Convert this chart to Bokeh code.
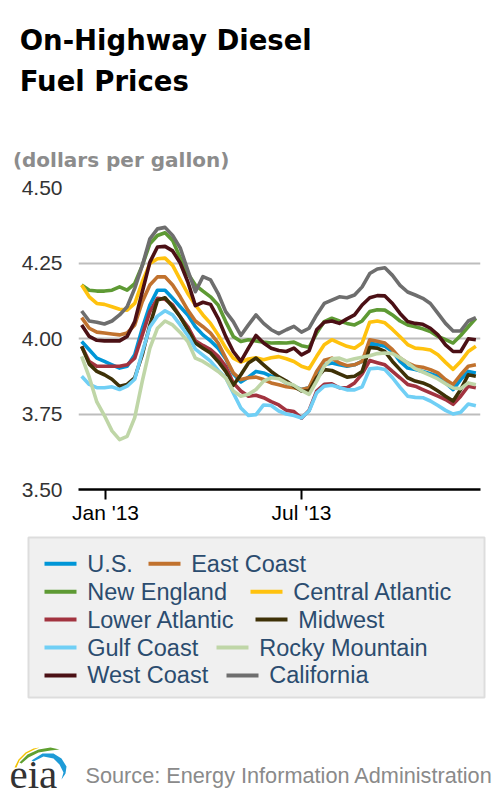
import pandas as pd
from bokeh.plotting import figure
from bokeh.models import Range1d, FixedTicker, NumeralTickFormatter, ColumnDataSource
from bokeh.core.properties import value
from bokeh.embed import file_html
from bokeh.resources import INLINE

# ---------------- data ----------------
title_lines = ["On-Highway Diesel", "Fuel Prices"]
subtitle = "(dollars per gallon)"
source_note = "Source: Energy Information Administration"

week_start = "2012-12-10"   # first weekly observation (Mondays)

us = [3.990, 3.963, 3.935, 3.924, 3.913, 3.902, 3.908, 3.946, 4.034, 4.111, 4.160, 4.160, 4.133,
      4.105, 4.078, 4.039, 4.012, 3.992, 3.968, 3.933, 3.883, 3.856, 3.872, 3.891, 3.886, 3.875,
      3.870, 3.853, 3.842, 3.831, 3.837, 3.880, 3.913, 3.919, 3.913, 3.908, 3.913, 3.924, 3.985,
      3.980, 3.974, 3.957, 3.924, 3.902, 3.897, 3.891, 3.883, 3.875, 3.853, 3.831, 3.864, 3.891, 3.886]
east_coast = [4.069, 4.034, 4.021, 4.018, 4.015, 4.012, 4.018, 4.045, 4.122, 4.177, 4.204, 4.204, 4.177,
              4.138, 4.094, 4.058, 4.039, 4.018, 3.985, 3.935, 3.886, 3.864, 3.870, 3.872, 3.864, 3.853,
              3.847, 3.840, 3.837, 3.831, 3.837, 3.891, 3.928, 3.935, 3.919, 3.910, 3.913, 3.924, 3.996,
              3.991, 3.985, 3.963, 3.935, 3.919, 3.908, 3.905, 3.897, 3.886, 3.864, 3.848, 3.880, 3.908, 3.913]
new_england = [4.177, 4.160, 4.157, 4.157, 4.160, 4.171, 4.160, 4.182, 4.242, 4.314, 4.341, 4.350, 4.325,
               4.267, 4.215, 4.177, 4.157, 4.138, 4.111, 4.056, 4.007, 3.990, 3.996, 3.992, 3.988, 3.985,
               3.986, 3.985, 3.988, 3.976, 3.971, 4.018, 4.056, 4.067, 4.058, 4.050, 4.045, 4.058, 4.089,
               4.095, 4.094, 4.078, 4.058, 4.045, 4.039, 4.032, 4.023, 4.007, 3.996, 3.985, 4.010, 4.039, 4.067]
central_atlantic = [4.177, 4.138, 4.116, 4.113, 4.105, 4.097, 4.094, 4.116, 4.188, 4.248, 4.264, 4.266, 4.242,
                    4.195, 4.149, 4.111, 4.078, 4.050, 4.012, 3.969, 3.935, 3.922, 3.932, 3.936, 3.930, 3.936,
                    3.940, 3.933, 3.924, 3.908, 3.900, 3.941, 3.979, 3.996, 3.985, 3.974, 3.968, 3.985, 4.054,
                    4.058, 4.052, 4.030, 4.006, 3.980, 3.968, 3.966, 3.962, 3.946, 3.921, 3.898, 3.924, 3.957, 3.974]
lower_atlantic = [3.974, 3.924, 3.908, 3.908, 3.908, 3.908, 3.913, 3.935, 4.012, 4.089, 4.133, 4.130, 4.111,
                  4.072, 4.039, 3.992, 3.977, 3.963, 3.941, 3.908, 3.853, 3.826, 3.809, 3.812, 3.804, 3.791,
                  3.780, 3.762, 3.758, 3.736, 3.762, 3.826, 3.848, 3.850, 3.837, 3.837, 3.853, 3.883, 3.927,
                  3.920, 3.913, 3.891, 3.870, 3.848, 3.842, 3.831, 3.820, 3.809, 3.798, 3.782, 3.809, 3.842, 3.837]
midwest = [3.974, 3.915, 3.891, 3.880, 3.865, 3.842, 3.848, 3.870, 3.946, 4.045, 4.127, 4.135, 4.105,
           4.072, 4.029, 3.985, 3.968, 3.952, 3.924, 3.891, 3.845, 3.880, 3.919, 3.935, 3.913, 3.891,
           3.873, 3.859, 3.842, 3.826, 3.826, 3.870, 3.897, 3.894, 3.883, 3.872, 3.875, 3.891, 3.970,
           3.968, 3.957, 3.924, 3.897, 3.870, 3.859, 3.853, 3.842, 3.826, 3.809, 3.793, 3.831, 3.880, 3.875]
gulf_coast = [3.875, 3.848, 3.837, 3.837, 3.840, 3.831, 3.842, 3.865, 3.955, 4.038, 4.074, 4.092, 4.078,
              4.045, 4.010, 3.965, 3.945, 3.925, 3.895, 3.870, 3.820, 3.770, 3.745, 3.748, 3.780, 3.778,
              3.760, 3.750, 3.745, 3.737, 3.760, 3.820, 3.842, 3.845, 3.838, 3.830, 3.830, 3.840, 3.900,
              3.902, 3.897, 3.870, 3.838, 3.809, 3.805, 3.804, 3.793, 3.778, 3.762, 3.750, 3.756, 3.783, 3.777]
rocky_mountain = [3.941, 3.872, 3.790, 3.745, 3.694, 3.665, 3.676, 3.738, 3.859, 3.968, 4.034, 4.058, 4.045,
                  4.020, 3.990, 3.935, 3.924, 3.908, 3.891, 3.870, 3.826, 3.809, 3.815, 3.831, 3.859, 3.870,
                  3.867, 3.853, 3.845, 3.828, 3.815, 3.859, 3.908, 3.933, 3.935, 3.926, 3.933, 3.938, 3.943,
                  3.950, 3.952, 3.950, 3.936, 3.919, 3.900, 3.889, 3.878, 3.866, 3.850, 3.836, 3.834, 3.853, 3.847]
west_coast = [4.045, 4.007, 3.994, 3.992, 3.992, 3.992, 4.007, 4.056, 4.155, 4.253, 4.303, 4.305, 4.290,
              4.250, 4.188, 4.109, 4.120, 4.113, 4.067, 4.007, 3.957, 3.924, 3.968, 4.010, 3.985, 3.968,
              3.960, 3.957, 3.968, 3.946, 3.959, 4.029, 4.054, 4.058, 4.050, 4.065, 4.078, 4.111, 4.135,
              4.142, 4.141, 4.116, 4.083, 4.056, 4.050, 4.047, 4.034, 4.012, 3.979, 3.957, 3.957, 3.999, 3.996]
california = [4.091, 4.058, 4.054, 4.048, 4.058, 4.078, 4.105, 4.166, 4.242, 4.330, 4.363, 4.368, 4.341,
              4.300, 4.226, 4.155, 4.205, 4.194, 4.149, 4.089, 4.056, 4.010, 4.045, 4.078, 4.050, 4.029,
              4.016, 4.029, 4.040, 4.021, 4.034, 4.078, 4.116, 4.127, 4.138, 4.135, 4.144, 4.171, 4.215,
              4.230, 4.234, 4.209, 4.176, 4.154, 4.144, 4.133, 4.116, 4.083, 4.050, 4.025, 4.025, 4.058, 4.069]

series_names = ["U.S.", "East Coast", "New England", "Central Atlantic", "Lower Atlantic",
                "Midwest", "Gulf Coast", "Rocky Mountain", "West Coast", "California"]
series_values = [us, east_coast, new_england, central_atlantic, lower_atlantic,
                 midwest, gulf_coast, rocky_mountain, west_coast, california]
series_colors = ["#0096D7", "#C1722E", "#5E9A34", "#FFC20E", "#A2333F",
                 "#3E3107", "#70CFF5", "#BFD6A7", "#4B1015", "#6E6E6E"]

y_ticks = [3.50, 3.75, 4.00, 4.25, 4.50]
x_tick_dates = ["2013-01-01", "2013-07-01"]
x_tick_labels = ["Jan '13", "Jul '13"]
x_start, x_end = "2012-12-07 02:00", "2013-12-13 07:00"

# ---------------- layout (page pixels) ----------------
W = 496
TOP_H, CHART_H, LEG_H, FOOT_H = 174, 356, 175, 94
FRAME_L, FRAME_R, FRAME_T, FRAME_B = 78, 480, 187, 489
SANS = "Liberation Sans"
LEGEND_TEXT = "#2B4C6F"


def blank(height, xr, yr):
    f = figure(width=W, height=height, x_range=xr, y_range=yr, toolbar_location=None,
               output_backend="svg", x_axis_location=None, y_axis_location=None,
               outline_line_color=None, title=None, min_border=0, min_border_left=0,
               min_border_right=0, min_border_top=0, min_border_bottom=0)
    f.grid.visible = False
    return f


# ---- title block (page pixel coordinates, y downward; texts centred on their cap height) ----
ft = blank(TOP_H, Range1d(0, W), Range1d(TOP_H, 0))
ft.text(x=[19.2, 19.2], y=[39.5, 80.5], text=title_lines, text_font=value("DejaVu Sans"),
        text_font_style="bold", text_font_size="27.5px", text_color="black",
        text_baseline="middle", text_align="left")
ft.text(x=[12.4], y=[159.8], text=[subtitle], text_font=value("DejaVu Sans"),
        text_font_style="bold", text_font_size="20px", text_color="#8C8C8C",
        text_baseline="middle", text_align="left")

# ---- chart ----
dates = pd.date_range(week_start, periods=len(us), freq="7D")
data = {"date": dates}
for name, vals in zip(series_names, series_values):
    data[name] = vals
src = ColumnDataSource(data)

p = figure(width=W, height=CHART_H, x_axis_type="datetime",
           x_range=Range1d(pd.Timestamp(x_start), pd.Timestamp(x_end)),
           y_range=Range1d(3.5, 4.5), toolbar_location=None, output_backend="svg",
           title=None,
           min_border_left=FRAME_L, min_border_right=W - FRAME_R,
           min_border_top=FRAME_T - TOP_H, min_border_bottom=TOP_H + CHART_H - FRAME_B,
           outline_line_color=None)
for name, color in zip(series_names, series_colors):
    p.line("date", name, source=src, line_color=color, line_width=3.6, line_join="round")

p.ygrid.grid_line_color = "#BDBDBD"
p.ygrid.grid_line_width = 2
p.xgrid.visible = False

ya = p.yaxis[0]
ya.ticker = FixedTicker(ticks=y_ticks)
ya.formatter = NumeralTickFormatter(format="0.00")
ya.axis_line_color = None
ya.major_tick_line_color = None
ya.minor_tick_line_color = None
ya.major_tick_out = 0
ya.major_tick_in = 0
ya.major_label_standoff = 16
ya.major_label_text_font = SANS
ya.major_label_text_font_size = "21px"
ya.major_label_text_color = "#333333"

tick_ms = [float(pd.Timestamp(d).value // 10**6) for d in x_tick_dates]
xa = p.xaxis[0]
xa.ticker = FixedTicker(ticks=tick_ms)
xa.major_label_overrides = dict(zip(tick_ms, x_tick_labels))
xa.axis_line_color = "black"
xa.axis_line_width = 2.5
xa.major_tick_line_color = "black"
xa.major_tick_line_width = 2
xa.major_tick_out = 10
xa.major_tick_in = 0
xa.minor_tick_line_color = None
xa.major_label_standoff = 1
xa.major_label_text_font = SANS
xa.major_label_text_font_size = "21px"
xa.major_label_text_color = "black"

# ---- legend box (frame = grey box; page pixel coordinates) ----
BOX_L, BOX_R, BOX_T, BOX_B = 28, 484, 537, 697
LEG_TOP = TOP_H + CHART_H
fl = figure(width=W, height=LEG_H, x_range=Range1d(BOX_L, BOX_R), y_range=Range1d(BOX_B, BOX_T),
            toolbar_location=None, output_backend="svg", x_axis_location=None, y_axis_location=None,
            title=None, min_border_left=BOX_L, min_border_right=W - BOX_R,
            min_border_top=BOX_T - LEG_TOP, min_border_bottom=LEG_TOP + LEG_H - BOX_B,
            background_fill_color="#F0F0F0", outline_line_color="#DDDDDD", outline_line_width=2)
fl.grid.visible = False
row_y0, row_dy = 563.3, 27.9
col1_x = 44
col2_x = [148, 250, 255, 216, 226]
swatch_len, label_gap = 32, 10.7
lx, ly = [], []
for k in range(len(series_names)):
    r, c = divmod(k, 2)
    lx.append(col1_x if c == 0 else col2_x[r])
    ly.append(row_y0 + row_dy * r)
fl.segment(x0=lx, y0=ly, x1=[v + swatch_len for v in lx], y1=ly,
           line_color=series_colors, line_width=4)
fl.text(x=[v + swatch_len + label_gap for v in lx], y=ly, text=series_names,
        text_font=value(SANS), text_font_size="23.5px", text_color=LEGEND_TEXT,
        text_baseline="middle", text_align="left")

# ---- footer: EIA logo and source note (page pixel coordinates) ----
FOOT_TOP = LEG_TOP + LEG_H
ff = blank(FOOT_H, Range1d(0, W), Range1d(FOOT_TOP + FOOT_H, FOOT_TOP))
swoosh_colors = ["#F2C200", "#5FA030", "#1E9BD7"]
swoosh_xs = [[14, 18, 25, 33, 39, 34, 26, 19, 16],
             [19, 27, 38, 50, 59, 50, 38, 28, 21],
             [31, 42, 53, 61, 66, 65, 61, 63, 59, 53, 43, 33]]
swoosh_ys = [[767, 759, 752, 748, 747, 749, 753, 760, 767],
             [762, 754, 749, 747, 749, 750, 752, 757, 763],
             [760, 753, 753, 758, 766, 773, 779, 772, 764, 758, 756, 761]]
ff.patches(xs=swoosh_xs, ys=swoosh_ys, fill_color=swoosh_colors, line_color=None)
ff.text(x=[9], y=[773.8], text=["eia"], text_font=value("Liberation Serif"),
        text_font_size="41px", text_color="#333333", text_baseline="middle")
ff.text(x=[85], y=[774.8], text=[source_note], text_font=value(SANS),
        text_font_size="21.7px", text_color="#8A8A8A", text_baseline="middle")

open("out.html", "w").write(file_html([ft, p, fl, ff], INLINE))
